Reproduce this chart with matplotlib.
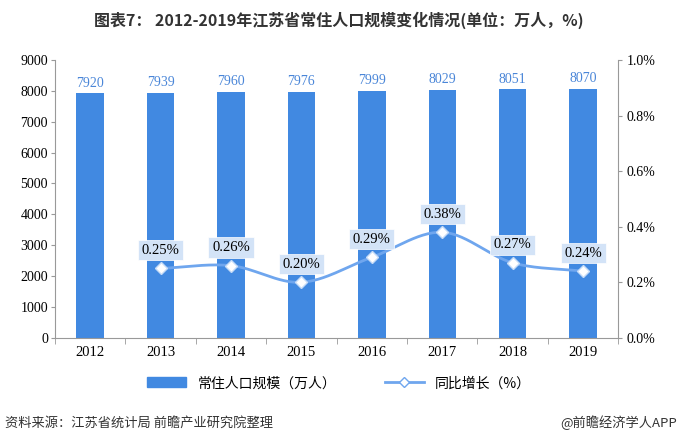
import numpy as np
import matplotlib.pyplot as plt
from matplotlib.lines import Line2D
from matplotlib.patches import Patch

plt.rcParams['font.family'] = ['Noto Sans CJK SC', 'DejaVu Sans']

# Data
years = ["2012", "2013", "2014", "2015", "2016", "2017", "2018", "2019"]
population = [7920, 7939, 7960, 7976, 7999, 8029, 8051, 8070]
growth = [None, 0.25, 0.26, 0.20, 0.29, 0.38, 0.27, 0.24]

bar_color = "#4189E1"
line_color = "#6FA6EE"
serif = "Liberation Serif"

fig = plt.figure(figsize=(6.78, 4.44), dpi=100)
ax = fig.add_axes([0.081, 0.239, 0.831, 0.626])
x = np.arange(len(years))

ax.bar(x, population, width=0.39, color=bar_color, zorder=2)
for xi, v in zip(x, population):
    ax.text(xi, v + 120, str(v), ha="center", va="bottom", fontsize=10,
            color="#4A86D8", family=serif)

ax.set_xlim(-0.5, len(years) - 0.5)
ax.set_ylim(0, 9000)
ax.set_yticks(np.arange(0, 9001, 1000))
ax.set_xticks(x)
ax.set_xticklabels(years, family=serif, fontsize=10.5)
for lbl in ax.get_yticklabels():
    lbl.set_family(serif)
    lbl.set_fontsize(10)
ax.tick_params(axis="x", length=0, pad=6)
ax.tick_params(axis="y", length=3, color="#999999", pad=2)
ax.set_xticks(np.arange(-0.5, len(years), 1), minor=True)
ax.tick_params(axis="x", which="minor", length=4, color="#999999")
for s in ["top", "right"]:
    ax.spines[s].set_visible(False)
for s in ["left", "bottom"]:
    ax.spines[s].set_color("#999999")

# Secondary axis
ax2 = ax.twinx()
ax2.set_ylim(0, 1.0)
ax2.set_yticks(np.arange(0, 1.01, 0.2))
ax2.set_yticklabels([f"{t:.1f}%" for t in np.arange(0, 1.01, 0.2)], family=serif, fontsize=10)
ax2.tick_params(axis="y", length=3, color="#999999", pad=3)
for s in ["top", "left", "bottom"]:
    ax2.spines[s].set_visible(False)
ax2.spines["right"].set_color("#999999")

gx = np.array([xi for xi, g in zip(x, growth) if g is not None], dtype=float)
gy = np.array([g for g in growth if g is not None], dtype=float)

# smooth the line (Catmull-Rom) for display only
pts = np.column_stack([gx, gy])
ext = np.vstack([pts[0] - (pts[1] - pts[0]), pts, pts[-1] + (pts[-1] - pts[-2])])
sx, sy = [], []
for i in range(1, len(ext) - 2):
    p0, p1, p2, p3 = ext[i - 1], ext[i], ext[i + 1], ext[i + 2]
    t = np.linspace(0, 1, 30)[:, None]
    c = 0.5 * ((2 * p1) + (-p0 + p2) * t + (2 * p0 - 5 * p1 + 4 * p2 - p3) * t ** 2
               + (-p0 + 3 * p1 - 3 * p2 + p3) * t ** 3)
    sx.extend(c[:, 0]); sy.extend(c[:, 1])
ax2.plot(sx, sy, color=line_color, lw=2, zorder=3)
ax2.plot(gx, gy, ls="none", marker="D", ms=6, mfc="white", mec="#C5DBF7", mew=1, zorder=4)
for xi, g in zip(gx, gy):
    ax2.text(xi, g + 0.065, f"{g:.2f}%", ha="center", va="center", fontsize=10.5,
             family=serif, color="black", zorder=5,
             bbox=dict(boxstyle="square,pad=0.25", fc="#D3E3F7", ec="white", lw=0.5))

# Legend
handles = [Patch(color=bar_color, label="常住人口规模（万人）"),
           Line2D([0], [0], color=line_color, lw=2, marker="D", ms=5, mfc="white",
                  mec=line_color, label="同比增长（%）")]
fig.legend(handles=handles, loc="center", bbox_to_anchor=(0.5, 0.137), ncol=2,
           frameon=False, fontsize=10, handlelength=2.8, columnspacing=3.5,
           prop={"family": ["Noto Sans CJK SC", "DejaVu Sans"], "size": 10})

fig.text(0.5, 0.955, "图表7： 2012-2019年江苏省常住人口规模变化情况(单位：万人，%)",
         ha="center", va="center", fontsize=11.5, fontweight="bold", color="#333333")
fig.text(0.008, 0.047, "资料来源：江苏省统计局 前瞻产业研究院整理", ha="left", va="center",
         fontsize=9.5, color="#333333")
fig.text(0.998, 0.047, "@前瞻经济学人APP", ha="right", va="center",
         fontsize=9.5, color="#333333")

fig.savefig("out.png", dpi=100)
